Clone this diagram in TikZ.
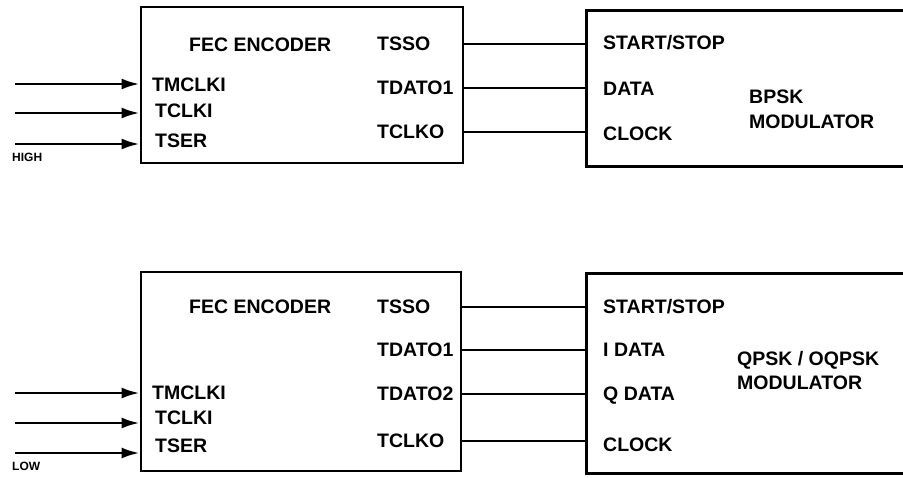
\documentclass[tikz,border=0pt]{standalone}
\usepackage{fontspec}
\setmainfont{Liberation Sans}
\usetikzlibrary{arrows.meta,positioning}

\begin{document}
\begin{tikzpicture}[x=1pt, y=-1pt,
		blk/.style={rectangle, draw, line width=2.8pt, inner sep=0pt},
		openblk/.style={rectangle, inner sep=0pt},
		lbl/.style={anchor=west, inner sep=0pt, font=\fontsize{19.5}{22}\selectfont\bfseries},
		tag/.style={anchor=west, inner sep=0pt, font=\fontsize{12}{14}\selectfont\bfseries},
		wire/.style={line width=2.6pt},
		inarr/.style={line width=2.8pt, -{Latex[length=18pt,width=11pt]}}]
	\useasboundingbox (0,0) rectangle (903,477);

	% Upper chain: FEC encoder -> BPSK modulator
	\node[blk, minimum width=322pt, minimum height=156pt] (enc1) at (302,85) {};
	\node[openblk, minimum width=323pt, minimum height=155pt] (mod1) at (748.5,88.5) {};
	\draw[line width=2.8pt] (mod1.north east) -- (mod1.north west) -- (mod1.south west) -- (mod1.south east);

	\node[lbl] (fec1) at (189,45) {FEC ENCODER};
	\node[lbl] (tsso1) at (377,44) {TSSO};
	\node[lbl] (tdatA1) at (377,88) {TDATO1};
	\node[lbl] (tclko1) at (377,132) {TCLKO};
	\node[lbl] (tmclki1) at (152,85) {TMCLKI};
	\node[lbl] (tclki1) at (155,111) {TCLKI};
	\node[lbl] (tser1) at (155,141) {TSER};

	\node[lbl] (ss1) at (603,43) {START/STOP};
	\node[lbl] (data1) at (603,89) {DATA};
	\node[lbl] (clk1) at (603,134) {CLOCK};
	\node[lbl] (bpsk) at (749,97) {BPSK};
	\node[lbl] (modl1) at (749,122) {MODULATOR};

	\coordinate (h1) at (15,84);
	\coordinate (h2) at (15,113);
	\coordinate (h3) at (15,144);
	\node[tag] (high) at (12,157) {HIGH};

	\draw[inarr] (h1) -- (enc1.west |- h1);
	\draw[inarr] (h2) -- (enc1.west |- h2);
	\draw[inarr] (h3) -- (enc1.west |- h3);
	\draw[wire] (enc1.east |- tsso1) -- (mod1.west |- tsso1);
	\draw[wire] (enc1.east |- tdatA1) -- (mod1.west |- tdatA1);
	\draw[wire] (enc1.east |- tclko1) -- (mod1.west |- tclko1);

	% Lower chain: FEC encoder -> QPSK / OQPSK modulator
	\node[blk, minimum width=320pt, minimum height=199pt] (enc2) at (301,371.5) {};
	\node[openblk, minimum width=323pt, minimum height=199pt] (mod2) at (748.5,373.5) {};
	\draw[line width=2.8pt] (mod2.north east) -- (mod2.north west) -- (mod2.south west) -- (mod2.south east);

	\node[lbl] (fec2) at (189,307) {FEC ENCODER};
	\node[lbl] (tsso2) at (377,307) {TSSO};
	\node[lbl] (tdatA2) at (377,350) {TDATO1};
	\node[lbl] (tdatB2) at (377,394) {TDATO2};
	\node[lbl] (tclko2) at (377,441) {TCLKO};
	\node[lbl] (tmclki2) at (152,393) {TMCLKI};
	\node[lbl] (tclki2) at (155,418) {TCLKI};
	\node[lbl] (tser2) at (155,446) {TSER};

	\node[lbl] (ss2) at (603,307) {START/STOP};
	\node[lbl] (idata) at (603,350) {I DATA};
	\node[lbl] (qdata) at (603,396) {Q DATA};
	\node[lbl] (clk2) at (603,445) {CLOCK};
	\node[lbl] (qpsk) at (737,360) {QPSK / OQPSK};
	\node[lbl] (modl2) at (737,383) {MODULATOR};

	\coordinate (l1) at (15,393);
	\coordinate (l2) at (15,423);
	\coordinate (l3) at (15,453);
	\node[tag] (low) at (12,466) {LOW};

	\draw[inarr] (l1) -- (enc2.west |- l1);
	\draw[inarr] (l2) -- (enc2.west |- l2);
	\draw[inarr] (l3) -- (enc2.west |- l3);
	\draw[wire] (enc2.east |- tsso2) -- (mod2.west |- tsso2);
	\draw[wire] (enc2.east |- tdatA2) -- (mod2.west |- tdatA2);
	\draw[wire] (enc2.east |- tdatB2) -- (mod2.west |- tdatB2);
	\draw[wire] (enc2.east |- tclko2) -- (mod2.west |- tclko2);
\end{tikzpicture}
\end{document}
